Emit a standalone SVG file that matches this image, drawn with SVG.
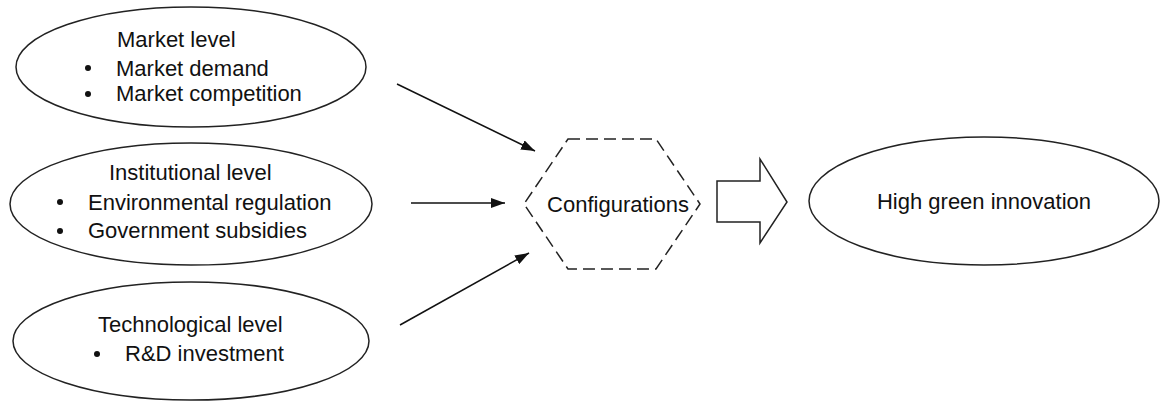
<svg xmlns="http://www.w3.org/2000/svg" width="1161" height="401" viewBox="0 0 1161 401">
  <defs>
    <marker id="arrowhead" viewBox="0 0 14 10" refX="14" refY="5" markerWidth="14" markerHeight="10" markerUnits="userSpaceOnUse" orient="auto">
      <path d="M0,0 L14,5 L0,10 Z" fill="#111"/>
    </marker>
    <style>
      .shape { fill: #fff; stroke: #222; stroke-width: 1.5; }
      .dashed { fill: none; stroke: #222; stroke-width: 1.5; stroke-dasharray: 12 6; }
      .label { font-family: "Liberation Sans", Arial, sans-serif; font-size: 22px; fill: #111; }
      .link { stroke: #111; stroke-width: 1.5; fill: none; marker-end: url(#arrowhead); }
    </style>
  </defs>
  <rect width="1161" height="401" fill="#fff"/>

  <!-- Market level -->
  <g id="market">
    <ellipse class="shape" cx="191" cy="67" rx="175" ry="60"/>
    <text class="label" x="117" y="47">Market level</text>
    <circle cx="88" cy="68" r="3" fill="#111"/>
    <text class="label" x="116" y="76">Market demand</text>
    <circle cx="88" cy="94" r="3" fill="#111"/>
    <text class="label" x="116" y="101">Market competition</text>
  </g>

  <!-- Institutional level -->
  <g id="institutional">
    <ellipse class="shape" cx="191" cy="204" rx="181" ry="61"/>
    <text class="label" x="109" y="180">Institutional level</text>
    <circle cx="60" cy="202" r="3" fill="#111"/>
    <text class="label" x="88" y="210">Environmental regulation</text>
    <circle cx="60" cy="231" r="3" fill="#111"/>
    <text class="label" x="88" y="238">Government subsidies</text>
  </g>

  <!-- Technological level -->
  <g id="technological">
    <ellipse class="shape" cx="191" cy="341" rx="178" ry="59"/>
    <text class="label" x="98" y="332">Technological level</text>
    <circle cx="97" cy="354" r="3" fill="#111"/>
    <text class="label" x="125" y="361">R&amp;D investment</text>
  </g>

  <!-- Configurations hexagon -->
  <g id="configurations">
    <polygon class="dashed" points="568,139 656,139 700,204 656,269 568,269 524,204"/>
    <text class="label" x="618" y="212" text-anchor="middle">Configurations</text>
  </g>

  <!-- Block arrow -->
  <g id="block-arrow">
    <polygon class="shape" points="717,181 760,181 760,159 787,202 760,243 760,222 717,222"/>
  </g>

  <!-- Outcome -->
  <g id="outcome">
    <ellipse class="shape" cx="984" cy="201" rx="175" ry="64"/>
    <text class="label" x="984" y="209" text-anchor="middle">High green innovation</text>
  </g>

  <!-- Connectors -->
  <g id="connectors">
    <line class="link" x1="397" y1="84" x2="535" y2="151"/>
    <line class="link" x1="411" y1="203" x2="505" y2="203"/>
    <line class="link" x1="400" y1="325" x2="529" y2="253"/>
  </g>
</svg>
